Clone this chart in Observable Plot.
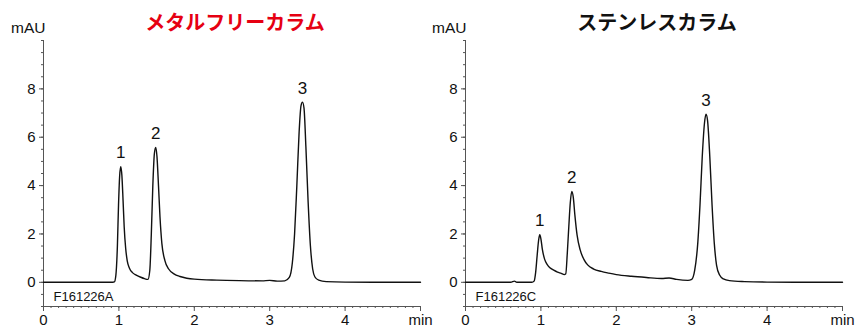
<!DOCTYPE html>
<html><head><meta charset="utf-8">
<script src="https://cdn.jsdelivr.net/npm/d3@7"></script>
<script src="https://cdn.jsdelivr.net/npm/@observablehq/plot@0.6"></script>
<style>
body{margin:0;background:#fff;}
#wrap{position:relative;width:857px;height:327px;overflow:hidden;font-family:"Liberation Sans",Arial,sans-serif;}
.panel{position:absolute;top:0;}
.title{position:absolute;top:8px;font-family:"Noto Sans CJK JP",sans-serif;font-weight:700;font-size:20px;line-height:28px;transform:translateX(-50%);white-space:nowrap;}
.unit{position:absolute;top:20px;font-size:15.5px;line-height:16px;color:#111;}
</style></head>
<body><div id="wrap"></div>
<script>
// ---- data ----
const leftTime = [0,0.5,0.9,0.94,0.96,0.98,0.995,1.01,1.025,1.04,1.055,1.07,1.09,1.11,1.14,1.18,1.23,1.29,1.34,1.385,1.41,1.43,1.45,1.47,1.488,1.505,1.525,1.545,1.57,1.61,1.66,1.73,1.81,1.9,2.0,2.3,2.6,2.9,3.0,3.1,3.2,3.26,3.30,3.33,3.36,3.39,3.415,3.435,3.455,3.48,3.51,3.54,3.57,3.60,3.65,3.75,4.0,5.0];
const leftValue = [0,0,0,0.02,0.3,1.5,3.2,4.4,4.78,4.4,3.4,2.3,1.4,0.9,0.58,0.4,0.3,0.21,0.15,0.12,0.5,2.0,4.0,5.3,5.58,5.2,4.0,2.7,1.6,0.9,0.55,0.35,0.24,0.17,0.13,0.09,0.07,0.06,0.08,0.05,0.06,0.2,0.8,2.0,4.0,6.2,7.3,7.45,7.2,5.6,3.3,1.5,0.55,0.22,0.09,0.03,0.01,0];
const leftPeakTime = [1.025,1.488,3.435];
const leftPeakValue = [4.78,5.58,7.45];

const rightTime = [0,0.6,0.65,0.68,0.88,0.91,0.93,0.95,0.97,0.985,1.0,1.02,1.05,1.08,1.12,1.17,1.22,1.27,1.31,1.33,1.35,1.37,1.39,1.41,1.43,1.45,1.48,1.52,1.57,1.62,1.70,1.80,1.90,2.0,2.2,2.4,2.6,2.7,2.8,2.95,3.0,3.04,3.08,3.11,3.14,3.17,3.19,3.21,3.24,3.27,3.30,3.33,3.37,3.42,3.5,3.7,4.0,5.0];
const rightValue = [0,0,0.05,0,0,0.05,0.4,1.1,1.75,1.97,1.8,1.35,0.95,0.75,0.6,0.5,0.42,0.37,0.32,0.35,1.2,2.3,3.3,3.76,3.5,2.8,1.95,1.35,0.95,0.72,0.55,0.45,0.38,0.32,0.25,0.2,0.16,0.18,0.12,0.08,0.12,0.5,1.6,3.2,5.2,6.6,6.95,6.7,5.2,3.2,1.6,0.7,0.3,0.14,0.07,0.03,0.01,0];
const rightPeakTime = [0.985,1.41,3.19];
const rightPeakValue = [1.97,3.76,6.95];

const peakLabels = ["1","2","3"];
const xMajorTicks = [0,1,2,3,4,5];
const xTickLabels = ["0","1","2","3","4","min"];
const yMajorTicks = [0,2,4,6,8];
const titles = ["メタルフリーカラム","ステンレスカラム"];
const titleColors = ["#e60012","#111111"];
const sampleIds = ["F161226A","F161226C"];
const unitLabel = "mAU";

// ---- drawing ----
const axisColor = "#555";
const xMinorTicks = d3.range(0, 50.5).map(i => i / 10);
const yMinorTicks = d3.range(-2, 21).map(i => i / 2);

function panel(times, values, pT, pV, sampleId, width, mr) {
  const data = times.map((t, i) => ({t, v: values[i]}));
  const peaks = pT.map((t, i) => ({t, v: pV[i], label: peakLabels[i]}));
  return Plot.plot({
    width, height: 327,
    marginLeft: 43, marginRight: mr, marginTop: 40, marginBottom: 21,
    style: {fontFamily: '"Liberation Sans", Arial, sans-serif', fontSize: "15px", color: "#111", background: "transparent", overflow: "visible"},
    x: {domain: [0, 5]},
    y: {domain: [-1, 10]},
    marks: [
      Plot.ruleX([0], {y1: -1, y2: 10, stroke: axisColor, strokeWidth: 1}),
      Plot.ruleY([-1], {x1: 0, x2: 5, stroke: axisColor, strokeWidth: 1}),
      Plot.axisY({ticks: yMinorTicks, tickSize: 2, tickFormat: () => "", label: null, stroke: axisColor}),
      Plot.axisY({ticks: yMajorTicks, tickSize: 4, tickPadding: 4, label: null, fontSize: 15, stroke: axisColor}),
      Plot.axisX({ticks: xMinorTicks, tickSize: 2, tickFormat: () => "", label: null, stroke: axisColor}),
      Plot.axisX({ticks: xMajorTicks, tickSize: 5, tickPadding: 3, label: null, fontSize: 15, stroke: axisColor,
        tickFormat: d => xTickLabels[xMajorTicks.indexOf(d)]}),
      Plot.line(data, {x: "t", y: "v", curve: "monotone-x", stroke: "#111", strokeWidth: 1.4}),
      Plot.text(peaks, {x: "t", y: "v", text: "label", dy: -14, fontSize: 17, fill: "#111"}),
      Plot.text([sampleId], {frameAnchor: "bottom-left", text: d => d, dx: 10, dy: -6, fontSize: 13, fill: "#111"})
    ]
  });
}

const wrap = document.getElementById("wrap");
const specs = [
  {left: 0, width: 430, mr: 10, t: leftTime, v: leftValue, pt: leftPeakTime, pv: leftPeakValue, cx: 235, ux: 11},
  {left: 422, width: 435, mr: 15, t: rightTime, v: rightValue, pt: rightPeakTime, pv: rightPeakValue, cx: 657, ux: 432}
];
specs.forEach((s, i) => {
  const div = document.createElement("div");
  div.className = "panel";
  div.style.left = s.left + "px";
  div.appendChild(panel(s.t, s.v, s.pt, s.pv, sampleIds[i], s.width, s.mr));
  wrap.appendChild(div);
  const title = document.createElement("div");
  title.className = "title";
  title.style.left = s.cx + "px";
  title.style.color = titleColors[i];
  title.textContent = titles[i];
  wrap.appendChild(title);
  const unit = document.createElement("div");
  unit.className = "unit";
  unit.style.left = s.ux + "px";
  unit.textContent = unitLabel;
  wrap.appendChild(unit);
});
</script>
</body></html>
